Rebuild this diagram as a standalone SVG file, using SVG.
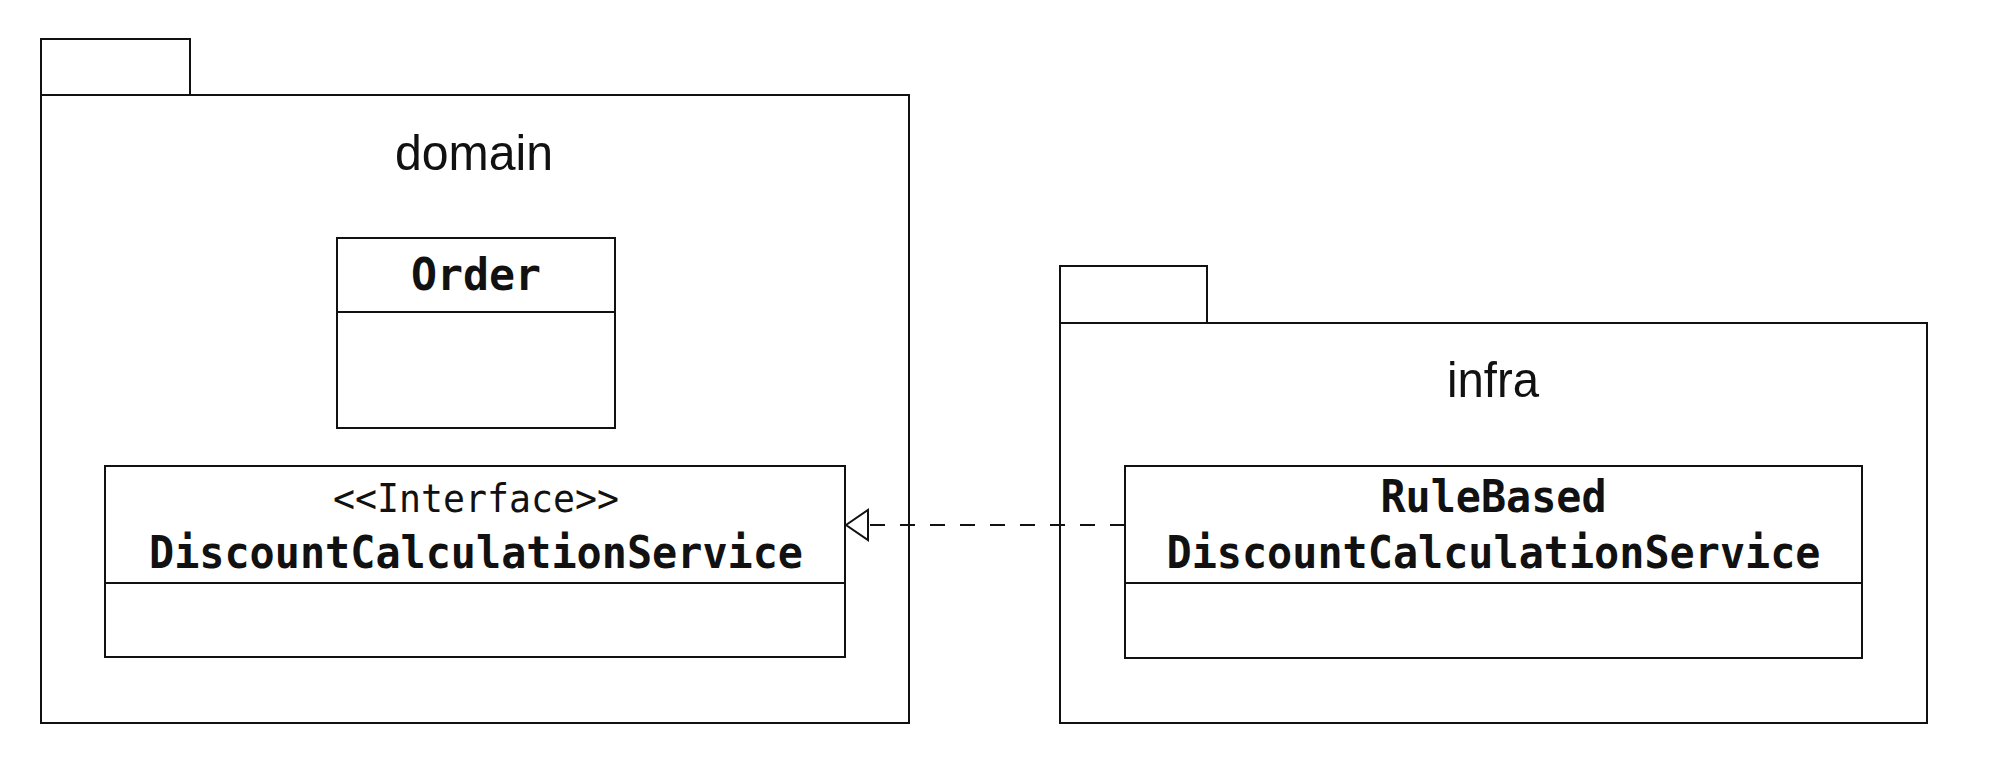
<svg xmlns="http://www.w3.org/2000/svg" width="2000" height="762" viewBox="0 0 2000 762">
<style>
.pkg{fill:#fff;stroke:#111;stroke-width:2}
.box{fill:#fff;stroke:#111;stroke-width:2}
.div{stroke:#111;stroke-width:2}
.pname{font-family:"Liberation Sans",Arial,sans-serif;font-size:50px;fill:#111;text-anchor:middle}
.cname{font-family:"DejaVu Sans Mono","Liberation Mono",monospace;font-weight:bold;font-size:44px;fill:#111;text-anchor:middle}
.stereo{font-family:"DejaVu Sans Mono","Liberation Mono",monospace;font-size:39px;fill:#111;text-anchor:middle}
.dep{fill:none;stroke:#111;stroke-width:2;stroke-dasharray:15 15}
.head{fill:#fff;stroke:#111;stroke-width:2;stroke-linejoin:miter}
</style>
<rect width="2000" height="762" fill="#fff"/>
<g id="pkg-domain">
  <rect class="pkg" x="41" y="39" width="149" height="56"/>
  <rect class="pkg" x="41" y="95" width="868" height="628"/>
  <text class="pname" x="474" y="170" textLength="158" lengthAdjust="spacingAndGlyphs">domain</text>
</g>
<g id="pkg-infra">
  <rect class="pkg" x="1060" y="266" width="147" height="57"/>
  <rect class="pkg" x="1060" y="323" width="867" height="400"/>
  <text class="pname" x="1493" y="397" textLength="92" lengthAdjust="spacingAndGlyphs">infra</text>
</g>
<g id="class-order">
  <rect class="box" x="337" y="238" width="278" height="190"/>
  <line class="div" x1="337" y1="312" x2="615" y2="312"/>
  <text class="cname" x="476" y="290" textLength="130" lengthAdjust="spacingAndGlyphs">Order</text>
</g>
<g id="class-discount-interface">
  <rect class="box" x="105" y="466" width="740" height="191"/>
  <line class="div" x1="105" y1="583" x2="845" y2="583"/>
  <text class="stereo" x="476" y="512" textLength="286" lengthAdjust="spacingAndGlyphs">&lt;&lt;Interface&gt;&gt;</text>
  <text class="cname" x="476" y="568" textLength="654" lengthAdjust="spacingAndGlyphs">DiscountCalculationService</text>
</g>
<g id="class-rulebased">
  <rect class="box" x="1125" y="466" width="737" height="192"/>
  <line class="div" x1="1125" y1="583" x2="1862" y2="583"/>
  <text class="cname" x="1493.5" y="512" textLength="226" lengthAdjust="spacingAndGlyphs">RuleBased</text>
  <text class="cname" x="1493.5" y="568" textLength="654" lengthAdjust="spacingAndGlyphs">DiscountCalculationService</text>
</g>
<g id="connectors">
  <line class="dep" x1="1125" y1="525" x2="868" y2="525"/>
  <polygon class="head" points="846,525 868,510 868,540"/>
</g>
</svg>
